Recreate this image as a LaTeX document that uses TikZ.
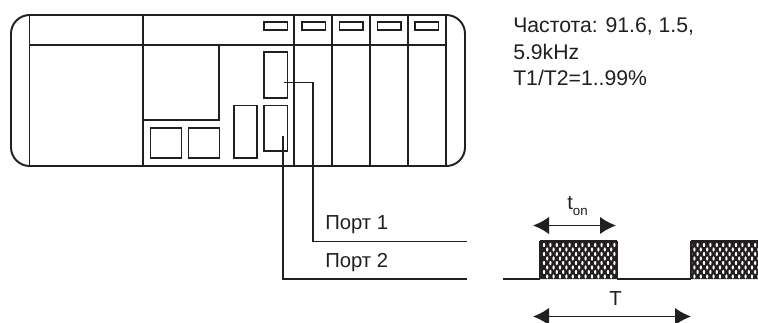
\documentclass[tikz,border=0pt]{standalone}
\usepackage{fontspec}
\setmainfont{Liberation Sans}
\usetikzlibrary{arrows.meta}
\definecolor{ink}{HTML}{231F20}
\tikzset{
  x=0.75pt,y=-0.75pt,
  line/.style={draw=ink,line width=1.45pt,line join=miter},
  wire/.style={draw=ink,line width=1.45pt},
  thin wire/.style={draw=ink,line width=1.1pt},
  dim/.style={draw=ink,line width=1.2pt,{Latex[length=12pt,width=13pt]}-{Latex[length=12pt,width=13pt]}},
  lab/.style={inner sep=0pt,text=ink,font=\fontsize{15.2pt}{18pt}\selectfont,anchor=base west},
  note/.style={lab,font=\fontsize{15.9pt}{18pt}\selectfont},
}
\begin{document}
\begin{tikzpicture}
\useasboundingbox (0,0) rectangle (758,322);
\fill[white] (0,0) rectangle (758,322);
% housing
\draw[line,rounded corners=14pt] (11,15) rectangle (465,166);
\foreach \x in {29.5,143,294,332,370,408,446} \draw[line] (\x,15) -- (\x,166);
\draw[line] (29.5,45) -- (446,45);
% inner boxes
\draw[line] (143,45) rectangle (219,120);
\draw[line] (150.5,128) rectangle (181.5,158);
\draw[line] (188.5,128) rectangle (219.5,158);
\draw[line] (234,105.5) rectangle (257,158);
\draw[line] (264,52) rectangle (287.5,98);
\draw[line] (264,105.5) rectangle (287.5,151);
\foreach \x in {264,302,339.5,377.5,415} \draw[line] (\x,22) rectangle ++(23.5,8);
% wires
\coordinate (p1s) at (284,82.5);
\coordinate (p1c) at (313,82.5);
\coordinate (p1k) at (313,241.5);
\coordinate (p1e) at (467,241.5);
\coordinate (p2s) at (283,136);
\coordinate (p2k) at (283,279);
\coordinate (p2e) at (467,279);
\draw[wire] (p1s) -- (p1c) -- (p1k) -- (p1e);
\draw[wire] (p2s) -- (p2k) -- (p2e);
\node[lab] (port1) at (325,229.3) {Порт 1};
\node[lab] (port2) at (325,267) {Порт 2};
% signal
\begin{scope}
  \clip (540,241) rectangle (617,279) (691,241) rectangle (758,279);
  \fill[ink] (540,241) rectangle (617,279) (691,241) rectangle (758,279);
  \foreach \c in {0,...,34} \foreach \r in {0,...,8} {
    \pgfmathsetmacro{\px}{544+\c*6.4+mod(\r,2)*3.2}
    \pgfmathsetmacro{\py}{245+\r*4.5}
    \fill[white] (\px,\py) ellipse [x radius=0.85pt,y radius=1.6pt];
  }
\end{scope}
\draw[thin wire] (540,241) -- (617,241) (691,241) -- (758,241);
\coordinate (s0) at (503,279);\coordinate (s1) at (540,279);
\coordinate (s2) at (617,279);\coordinate (s3) at (691,279);
\draw[thin wire] (s0) -- (s1) (s2) -- (s3);
\draw[thin wire] (s1) -- (540,241) (617,241) -- (s2) (s3) -- (691,241);
% dimensions
\coordinate (a1) at (533,225.5);\coordinate (a2) at (616,225.5);
\coordinate (b1) at (533,316.5);\coordinate (b2) at (691,316.5);
\draw[dim] (a1) -- (a2);
\draw[dim] (b1) -- (b2);
\node[lab] (ton) at (567,209) {t\raisebox{-5.2pt}{\fontsize{10pt}{12pt}\selectfont on}};
\node[lab] (tt) at (609,305) {T};
% text
\node[note] (f1) at (513,32.7) {Частота: 91.6, 1.5,};
\node[note] (f2) at (513,59.3) {5.9kHz};
\node[note] (f3) at (513,85) {T1/T2=1..99\%};
\end{tikzpicture}
\end{document}
